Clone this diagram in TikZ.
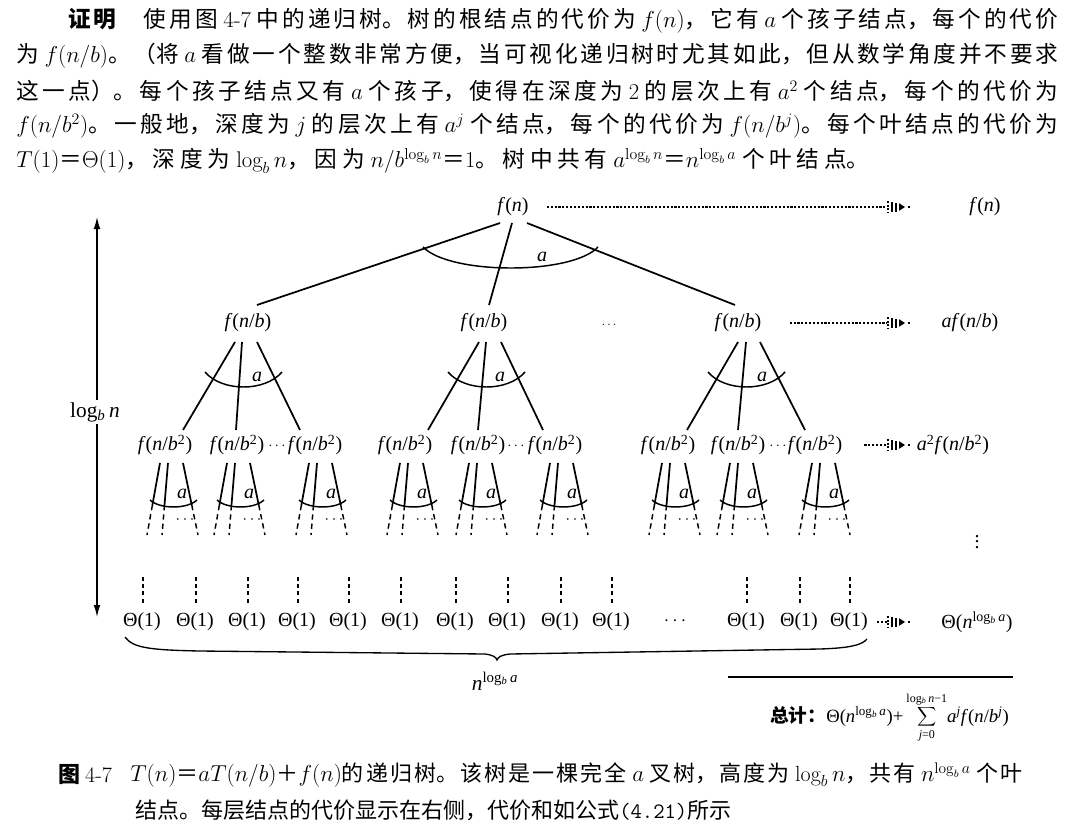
\documentclass[tikz,border=0pt]{standalone}
\usepackage{fontspec}
\usetikzlibrary{calc,arrows.meta}
\newfontfamily\cjk{Noto Sans CJK SC}
\newfontfamily\dg{Liberation Serif}
\newcommand\vi[1]{\textit{#1}}
% one justified line of Chinese text: width, size, text
\newcommand\jl[3]{\parbox{#1}{\cjk\fontsize{#2}{#2}\selectfont
  \XeTeXlinebreaklocale "zh"\XeTeXlinebreakskip=0pt plus 10pt\relax
  \parindent=0pt\parfillskip=0pt\relax #3}}
\newcommand\logba{log\textsubscript{\vi{b}}\,\vi{a}}
\newcommand\fnb[1]{\vi{f}(\vi{n}/\vi{b}#1)}

\tikzset{
  lbl/.style={inner sep=0pt, font=\dg\fontsize{15}{18}\selectfont},
  arclbl/.style={inner sep=0pt, font=\dg\itshape\fontsize{15}{18}\selectfont},
  edge/.style={line width=1.3pt},
  fanarc/.style={line width=1.1pt},
  dotline/.style={line width=1.8pt, dash pattern=on 1.6pt off 1.3pt},
  tailline/.style={line width=1.1pt, dash pattern=on 4pt off 3pt},
  leafdash/.style={line width=1pt, dash pattern=on 3pt off 2.4pt},
  dothead/.pic={
    \draw[line width=1.8pt, dash pattern=on 1.6pt off 1.1pt] (1,-6) -- (1,6);
    \fill (4,-5) rectangle (6.2,5);
    \fill (8,-4.5) rectangle (10.2,4.5);
    \fill (12,-3.8) -- (18,0) -- (12,3.8) -- cycle;
    \fill (20.5,-1.2) rectangle (22.8,1.2);
  },
  fan/.pic={
    \draw[edge] (-8,0) -- (-15.6,42);
    \draw[tailline] (-15.6,42) -- (-21,72);
    \draw[edge] (0,0) -- (-3.5,42);
    \draw[tailline] (-3.5,42) -- (-6,72);
    \draw[edge] (15,0) -- (23.75,42);
    \draw[tailline] (23.75,42) -- (30,72);
    \draw[fanarc] (-18,37) .. controls (-8,46.3) and (19,46.3) .. (29,37);
    \node[arclbl] at (14,31) {a};
    \node[inner sep=0pt, font=\fontsize{12}{12}\selectfont] at (17,57) {$\cdots$};
  }
}

\begin{document}
\begin{tikzpicture}[x=0.75pt, y=-0.75pt]
\fill[white] (0,0) rectangle (1091,832);
\useasboundingbox (0,0) rectangle (1091,832);

% ---- proof text ----
\node[anchor=west, inner sep=0pt] (p1) at (68,21) {\jl{742.5pt}{17pt}{{\bfseries 证明}\hspace{1.2em}使用图 {\normalfont 4-7} 中的递归树。树的根结点的代价为 $f(n)$，它有 $a$ 个孩子结点，每个的代价}};
\node[anchor=west, inner sep=0pt] (p2) at (16,56) {\jl{781.5pt}{17pt}{为 $f(n/b)$。（将 $a$ 看做一个整数非常方便，当可视化递归树时尤其如此，但从数学角度并不要求}};
\node[anchor=west, inner sep=0pt] (p3) at (16,91) {\jl{781.5pt}{17pt}{这一点）。每个孩子结点又有 $a$ 个孩子，使得在深度为 {\normalfont 2} 的层次上有 $a^2$ 个结点，每个的代价为}};
\node[anchor=west, inner sep=0pt] (p4) at (16,126) {\jl{781.5pt}{17pt}{$f(n/b^2)$。一般地，深度为 $j$ 的层次上有 $a^j$ 个结点，每个的代价为 $f(n/b^j)$。每个叶结点的代价为}};
\node[anchor=west, inner sep=0pt] (p5) at (16,161) {\jl{640pt}{17pt}{$T(1)$＝$\Theta(1)$，深度为 $\log_b n$，因为 $n/b^{\log_b n}$＝{\normalfont 1}。树中共有 $a^{\log_b n}$＝$n^{\log_b a}$ 个叶结点。}};

% ---- depth arrow ----
\coordinate (atop) at (97,217);
\coordinate (abot) at (97,617);
\draw[line width=0.9pt, {Latex[length=9pt,width=5pt]}-{Latex[length=9pt,width=5pt]}] (atop) -- (abot);
\node[fill=white, inner sep=2pt, font=\dg\fontsize{16}{18}\selectfont] (depth) at (95,412) {log\textsubscript{\vi{b}}\,\vi{n}};

% ---- level 0 ----
\node[lbl] (root) at (513,207) {\vi{f}(\vi{n})};
\node[lbl] (cost0) at (985,207) {\vi{f}(\vi{n})};

% ---- level 1 ----
\node[lbl] (c1) at (248,323) {\fnb{}};
\node[lbl] (c2) at (484,323) {\fnb{}};
\node[lbl] (c3) at (738,323) {\fnb{}};
\node[lbl, font=\fontsize{9}{9}\selectfont] (cdots) at (609,325) {$\ldots$};
\node[lbl] (cost1) at (970,323) {\vi{af}(\vi{n}/\vi{b})};

\draw[edge] ($(root)+(-13,16)$) -- ($(c1)+(9,-18)$);
\draw[edge] ($(root)+(-1,16)$) -- ($(c2)+(5,-18)$);
\draw[edge] ($(root)+(14,16)$) -- ($(c3)+(-3,-18)$);
\draw[fanarc] (423,247) .. controls (450,275) and (572,275) .. (598,247);
\node[arclbl] (a0) at (542,257) {a};

% ---- level 2 ----
\foreach \n/\x in {1/165,2/237,3/315,4/405,5/478,6/555,7/668,8/738,9/815}
  \node[lbl] (g\n) at (\x,445) {\fnb{\textsuperscript{2}}};
\node[lbl, font=\fontsize{11}{11}\selectfont] (gd1) at (277,446) {$\cdots$};
\node[lbl, font=\fontsize{11}{11}\selectfont] (gd2) at (516,446) {$\cdots$};
\node[lbl, font=\fontsize{11}{11}\selectfont] (gd3) at (778,446) {$\cdots$};
\node[lbl] (cost2) at (953,445) {\vi{a}\textsuperscript{2}\fnb{\textsuperscript{2}}};

\draw[edge] ($(c1)+(-13,19)$) -- ($(g1)+(18,-15)$);
\draw[edge] ($(c1)+(-6,19)$) -- ($(g2)+(-1,-15)$);
\draw[edge] ($(c1)+(9,19)$) -- ($(g3)+(-15,-15)$);
\draw[edge] ($(c2)+(-5,19)$) -- ($(g4)+(23,-15)$);
\draw[edge] ($(c2)+(2,19)$) -- ($(g5)+(0,-15)$);
\draw[edge] ($(c2)+(17,19)$) -- ($(g6)+(-12,-15)$);
\draw[edge] ($(c3)+(0,19)$) -- ($(g7)+(19,-15)$);
\draw[edge] ($(c3)+(8,19)$) -- ($(g8)+(0,-15)$);
\draw[edge] ($(c3)+(22,19)$) -- ($(g9)+(-10,-15)$);

\draw[fanarc] (205,372) .. controls (222,392) and (265,392) .. (282,372);
\draw[fanarc] (448,372) .. controls (465,392) and (508,392) .. (525,372);
\draw[fanarc] (708,372) .. controls (725,392) and (768,392) .. (785,372);
\node[arclbl] (a1) at (257,377) {a};
\node[arclbl] (a2) at (500,377) {a};
\node[arclbl] (a3) at (762,377) {a};

% ---- level 3 fans ----
\foreach \n/\dx in {1/3,2/-2,3/2,4/3,5/-1,6/3,7/2,8/0,9/5}
  \pic at ($(g\n)+(\dx,18)$) {fan};
\node[lbl] (vd) at (977,538) {$\vdots$};

% ---- leaves ----
\foreach \n/\x in {1/142,2/195,3/247,4/297,5/348,6/400,7/455,8/507,9/560,10/611,11/746,12/799,13/849}
  \node[lbl] (l\n) at (\x,622) {Θ(1)};
\node[lbl] (ldots) at (675,621) {$\cdots$};
\node[lbl] (cost3) at (977,622) {Θ(\vi{n}\textsuperscript{\logba})};
\foreach \n in {1,...,13}
  \draw[leafdash] ($(l\n)+(1,-45)$) -- ($(l\n)+(1,-19)$);

% ---- cost arrows ----
\coordinate (h0) at (887,207);
\coordinate (h1) at (887,323);
\coordinate (h2) at (887,445);
\coordinate (h3) at (887,622);
\draw[dotline] ($(root.east)+(18,0)$) -- (h0);
\draw[dotline] ($(c3.east)+(28,0)$) -- (h1);
\draw[dotline] ($(g9.east)+(22,0)$) -- (h2);
\draw[dotline] ($(l13.east)+(9,0)$) -- (h3);
\foreach \h in {h0,h1,h2,h3} \pic at (\h) {dothead};

% ---- leaf brace ----
\draw[line width=1pt] (125,637) .. controls (133,648) and (150,650) .. (200,651)
  -- (485,654) .. controls (493,655) and (496,657) .. (497,660)
  .. controls (498,657) and (501,655) .. (510,654)
  -- (820,649) .. controls (850,648) and (862,645) .. (867,639);
\node[lbl, font=\dg\fontsize{16}{18}\selectfont] (nleaves) at (495,681) {\vi{n}\textsuperscript{\logba}};

% ---- total ----
\draw[line width=0.9pt] (728,677) -- (1013,677);
\node[anchor=base west, inner sep=0pt, font=\dg\fontsize{14}{16}\selectfont] (total) at (770,722)
  {{\cjk\bfseries 总计：}Θ(\vi{n}\textsuperscript{\logba})+\,$\displaystyle\sum_{\mbox{\dg\fontsize{9}{9}\selectfont\vi{j}=0}}^{\mbox{\dg\fontsize{9}{9}\selectfont log\textsubscript{\vi{b}}\,\vi{n}−1}}$\vi{a}\textsuperscript{\vi{j}}\vi{f}(\vi{n}/\vi{b}\textsuperscript{\vi{j}})};

% ---- caption ----
\node[anchor=west, inner sep=0pt, font=\cjk\fontsize{16.5}{16.5}\selectfont] (fig) at (58,775) {{\bfseries 图} {\normalfont 4-7}};
\node[anchor=west, inner sep=0pt] (cap1) at (130,775) {\jl{669pt}{16.5pt}{$T(n)$＝$aT(n/b)$＋$f(n)$的递归树。该树是一棵完全 $a$ 叉树，高度为 $\log_b n$，共有 $n^{\log_b a}$ 个叶}};
\node[anchor=west, inner sep=0pt, font=\cjk\fontsize{16.5}{16.5}\selectfont] (cap2) at (135,810) {结点。每层结点的代价显示在右侧，代价和如公式{\ttfamily(4.21)}所示};
\end{tikzpicture}
\end{document}
